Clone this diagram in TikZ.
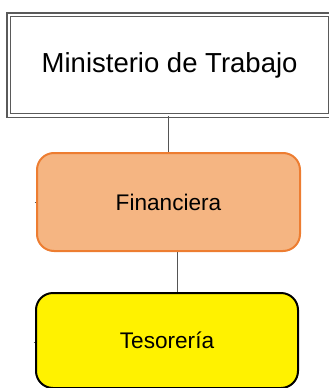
\documentclass[tikz,border=0pt]{standalone}
\usepackage{fontspec}
\setmainfont{Liberation Sans}
\definecolor{orfill}{HTML}{F5B582}
\definecolor{orline}{HTML}{ED7D31}
\definecolor{conn}{HTML}{555555}
\definecolor{dblline}{HTML}{5A5A5A}
\begin{document}
\begin{tikzpicture}[x=1pt,y=-1pt,
  topbox/.style={draw=dblline, double=white, double distance=2.2pt, line width=1.2pt,
    minimum width=321.7pt, minimum height=100.8pt, inner sep=0pt,
    font=\fontsize{27.5}{31}\selectfont},
  orgbox/.style={rounded corners=17pt, line width=2pt, inner sep=0pt,
    font=\fontsize{22.6}{26}\selectfont},
  link/.style={draw=conn, line width=1pt}]
\useasboundingbox (0,0) rectangle (329,388);
\clip (0,0) rectangle (329,388);
\node[topbox] (min) at (169.6,65.1) {Ministerio de Trabajo};
\node[orgbox, draw=orline, fill=orfill, minimum width=263pt, minimum height=98pt] (fin) at (168.5,202) {Financiera};
\node[orgbox, draw=black, fill=yellow, minimum width=262pt, minimum height=95pt] (tes) at (167,340.5) {Tesorería};
\coordinate (s1) at (34.5,202);
\coordinate (s2) at (33.5,342);
\coordinate (a1) at (168.3,0);
\coordinate (b1) at (177.7,0);
\draw[link] (a1 |- min.south) -- (a1 |- fin.north);
\draw[link] (b1 |- fin.south) -- (b1 |- tes.north);
\draw[link] (s1) -- (s1 -| fin.west);
\draw[link] (s2) -- (s2 -| tes.west);
\end{tikzpicture}
\end{document}
